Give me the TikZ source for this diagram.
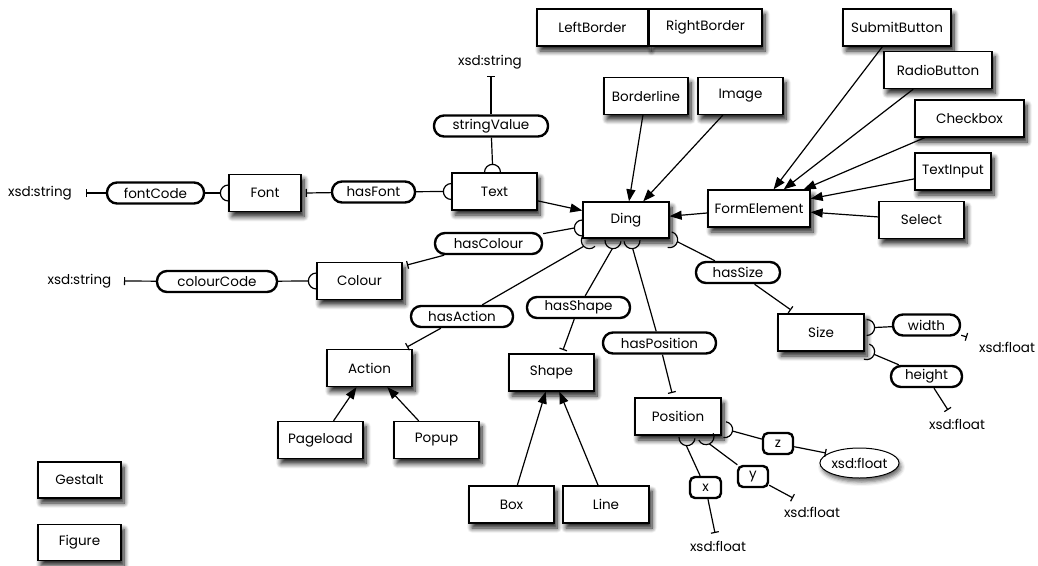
\documentclass[tikz,border=0pt]{standalone}
\usepackage{fontspec}
\setmainfont{Poppins}
\usetikzlibrary{arrows.meta,shadows.blur,shapes.geometric,calc}

% half-circle socket: #1 centre, #2 outward angle, #3 name of its outer point
\newcommand\sockarc[3]{%
  \draw[sock] ($(#1)+({#2-90}:8)$) arc[start angle={#2-90}, end angle={#2+90}, radius=8];
  \coordinate (#3) at ($(#1)+(#2:8)$);
}

\tikzset{
  lbl/.style={font=\fontsize{13.5}{15}\selectfont},
  cls/.style={lbl, draw, line width=1.3pt, fill=white, minimum width=85pt,
    minimum height=37pt, inner sep=0pt,
    blur shadow={shadow xshift=3pt, shadow yshift=-5pt, shadow blur radius=5pt,
      shadow blur steps=8, shadow opacity=90}},
  prop/.style={lbl, draw, line width=2.4pt, fill=white, rounded corners=10pt,
    minimum height=21pt, inner sep=0pt},
  coord/.style={lbl, draw, line width=2.4pt, fill=white, rounded corners=5pt,
    minimum height=21pt, minimum width=30pt, inner sep=0pt},
  dtype/.style={lbl, inner sep=1pt},
  sock/.style={line width=1.2pt},
  conn/.style={line width=1.2pt},
  tobar/.style={conn, -{Bar[width=8pt,line width=1.2pt]}},
  inh/.style={line width=1.2pt, -{Triangle[length=12pt,width=9pt]}},
}

\begin{document}
\begin{tikzpicture}[x=1pt,y=-1pt]
\useasboundingbox (0,0) rectangle (1038,565);

% ---- classes ----
\node[cls, minimum width=111pt] (leftborder)  at (592.5,27.5) {LeftBorder};
\node[cls, minimum width=113pt] (rightborder) at (705.5,27.5) {RightBorder};
\node[cls, minimum width=108pt] (submit)   at (897,27.5)  {SubmitButton};
\node[cls, minimum width=108pt] (radio)    at (938,70)    {RadioButton};
\node[cls, minimum width=109pt] (checkbox) at (969.5,118.5) {Checkbox};
\node[cls, minimum width=76pt]  (textinput) at (953,171.5) {TextInput};
\node[cls] (select)   at (921.5,220) {Select};
\node[cls, minimum width=102pt] (formel) at (759,208.5) {FormElement};
\node[cls, minimum width=86pt, minimum height=36pt] (ding) at (626,220) {Ding};
\node[cls, minimum width=84pt] (borderline) at (646,96) {Borderline};
\node[cls] (image)    at (740.5,96) {Image};
\node[cls] (text)     at (494.5,191.5) {Text};
\node[cls, minimum width=72pt] (font) at (265,193) {Font};
\node[cls] (colour)   at (359.5,281) {Colour};
\node[cls] (action)   at (369.5,368) {Action};
\node[cls] (pageload) at (320.5,440) {Pageload};
\node[cls] (popup)    at (436.5,440) {Popup};
\node[cls] (shape)    at (551.5,372.5) {Shape};
\node[cls] (box)      at (511.5,504.5) {Box};
\node[cls, minimum width=86pt] (line) at (606,504.5) {Line};
\node[cls, minimum width=86pt] (position) at (678,416.5) {Position};
\node[cls, minimum width=86pt] (size) at (821,332.5) {Size};
\node[cls, minimum width=83pt, minimum height=36pt] (gestalt) at (79.5,480) {Gestalt};
\node[cls, minimum width=83pt, minimum height=36pt] (figure)  at (79.5,542.5) {Figure};

% ---- properties ----
\node[prop, minimum width=97pt]  (fontcode)    at (155.5,193) {fontCode};
\node[prop, minimum width=83pt]  (hasfont)     at (373.5,192) {hasFont};
\node[prop, minimum width=114pt] (stringvalue) at (491,126) {stringValue};
\node[prop, minimum width=107pt] (hascolour)   at (488.5,243.5) {hasColour};
\node[prop, minimum width=120pt] (colourcode)  at (217,281.5) {colourCode};
\node[prop, minimum width=102pt] (hasaction)   at (462,316.5) {hasAction};
\node[prop, minimum width=103pt] (hasshape)    at (578.5,307.5) {hasShape};
\node[prop, minimum width=113pt] (hasposition) at (659.5,343) {hasPosition};
\node[prop, minimum width=84pt]  (hassize)     at (738,272.5) {hasSize};
\node[prop, minimum width=67pt]  (width)       at (926.5,325) {width};
\node[prop, minimum width=71pt]  (height)      at (926.5,376.5) {height};
\node[coord, minimum width=31pt] (px) at (705.5,487.5) {x};
\node[coord] (py) at (753,476.5) {y};
\node[coord] (pz) at (778,443.5) {z};

% ---- datatypes ----
\node[dtype] (strA) at (40,193) {xsd:string};
\node[dtype] (strB) at (79.5,281) {xsd:string};
\node[dtype] (strC) at (490,62) {xsd:string};
\node[dtype] (fltW) at (1007,347) {xsd:float};
\node[dtype] (fltH) at (957,424) {xsd:float};
\node[dtype] (fltY) at (812,512) {xsd:float};
\node[dtype] (fltX) at (718,546) {xsd:float};
\node[lbl, draw, line width=1pt, fill=white, ellipse, minimum width=75pt, minimum height=30pt, inner sep=0pt,
  blur shadow={shadow xshift=2pt, shadow yshift=-4pt, shadow blur radius=4pt, shadow opacity=60}]
  (fltZ) at (859.5,463) {xsd:float};

% ---- subclass arrows ----
\draw[inh] (text) -- (ding);
\draw[inh] (borderline) -- (ding);
\draw[inh] (image) -- (ding);
\draw[inh] (formel) -- (ding);
\draw[inh] (submit) -- (formel);
\draw[inh] (radio) -- (formel);
\draw[inh] (checkbox) -- (formel);
\draw[inh] (textinput) -- (formel);
\draw[inh] (select) -- (formel);
\draw[inh] (pageload) -- (action);
\draw[inh] (popup) -- (action);
\draw[inh] (box) -- (shape);
\draw[inh] (line) -- (shape);

% ---- sockets on the property domains ----
\sockarc{font.west}{180}{sFont}
\sockarc{text.west}{180}{sTextL}
\coordinate (cTextT) at ($(text.north)+(-2,0)$);
\sockarc{cTextT}{270}{sTextT}
\sockarc{colour.west}{180}{sColour}
\coordinate (cDingL) at ($(ding.west)+(0,8)$);
\sockarc{cDingL}{180}{sDingL}
\coordinate (cDingA) at ($(ding.south west)+(7,2)$);
\sockarc{cDingA}{135}{sDingA}
\coordinate (cDingS) at ($(ding.south)+(-13,2)$);
\sockarc{cDingS}{95}{sDingS}
\coordinate (cDingP) at ($(ding.south)+(6,2)$);
\sockarc{cDingP}{85}{sDingP}
\coordinate (cDingR) at ($(ding.south east)+(0,1)$);
\sockarc{cDingR}{15}{sDingR}
\coordinate (cSizeW) at ($(size.east)+(2,-5)$);
\sockarc{cSizeW}{0}{sSizeW}
\coordinate (cSizeH) at ($(size.south east)+(2,0)$);
\sockarc{cSizeH}{20}{sSizeH}
\coordinate (cPosZ) at ($(position.south east)+(3,-6)$);
\sockarc{cPosZ}{10}{sPosZ}
\coordinate (cPosY) at ($(position.south)+(28,1)$);
\sockarc{cPosY}{65}{sPosY}
\coordinate (cPosX) at ($(position.south)+(9,2)$);
\sockarc{cPosX}{95}{sPosX}

% ---- free ends of the property links ----
\coordinate (eFontCode) at (86,193);
\coordinate (eHasFont)  at ($(font.east)+(4,0)$);
\coordinate (eString)   at (491,76);
\coordinate (eColourCode) at (124,281);
\coordinate (eHasColour)  at (407,265);
\coordinate (eHasAction)  at (407,347);
\coordinate (eHasShape)   at (563,350);
\coordinate (eHasPos)     at (672,393);
\coordinate (eHasSize)    at (791,310);
\coordinate (eWidth)  at (967,337);
\coordinate (eHeight) at (948,410);
\coordinate (eZ) at (826,453);
\coordinate (eY) at (793,498);
\coordinate (eX) at (715,533);

% ---- property links ----
\draw[conn] (sFont) -- (fontcode);   \draw[tobar] (fontcode) -- (eFontCode);
\draw[conn] (sTextL) -- (hasfont);   \draw[tobar] (hasfont) -- (eHasFont);
\draw[conn] (sTextT) -- (stringvalue); \draw[tobar] (stringvalue) -- (eString);
\draw[conn] (sColour) -- (colourcode); \draw[tobar] (colourcode) -- (eColourCode);
\draw[conn] (sDingL) -- (hascolour); \draw[tobar] (hascolour) -- (eHasColour);
\draw[conn] (sDingA) -- (hasaction); \draw[tobar] (hasaction) -- (eHasAction);
\draw[conn] (sDingS) -- (hasshape);  \draw[tobar] (hasshape) -- (eHasShape);
\draw[conn] (sDingP) -- (hasposition); \draw[tobar] (hasposition) -- (eHasPos);
\draw[conn] (sDingR) -- (hassize);   \draw[tobar] (hassize) -- (eHasSize);
\draw[conn] (sSizeW) -- (width);     \draw[tobar] (width) -- (eWidth);
\draw[conn] (sSizeH) -- (height);    \draw[tobar] (height) -- (eHeight);
\draw[conn] (sPosZ) -- (pz);         \draw[tobar] (pz) -- (eZ);
\draw[conn] (sPosY) -- (py);         \draw[tobar] (py) -- (eY);
\draw[conn] (sPosX) -- (px);         \draw[tobar] (px) -- (eX);
\end{tikzpicture}
\end{document}
